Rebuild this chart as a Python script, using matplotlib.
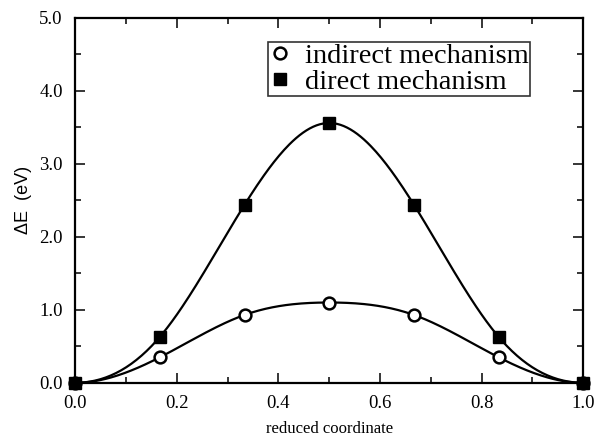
import matplotlib
matplotlib.use('Agg')
import matplotlib.pyplot as plt
import numpy as np
from matplotlib.ticker import MultipleLocator, FormatStrFormatter

# ------------------------
# Data
# ------------------------
coord = [0.0, 1/6, 1/3, 0.5, 2/3, 5/6, 1.0]
indirect = [0.0, 0.35, 0.93, 1.10, 0.93, 0.35, 0.0]
direct = [0.0, 0.63, 2.44, 3.56, 2.44, 0.63, 0.0]


def clamped_spline(x, y, n=300):
    # cubic spline with zero slope at both ends, only used to draw the smooth line
    x = np.asarray(x, float)
    y = np.asarray(y, float)
    m = len(x)
    h = np.diff(x)
    A = np.zeros((m, m))
    b = np.zeros(m)
    A[0, 0], A[0, 1] = 2 * h[0], h[0]
    b[0] = 6 * ((y[1] - y[0]) / h[0])
    A[-1, -2], A[-1, -1] = h[-1], 2 * h[-1]
    b[-1] = 6 * (-(y[-1] - y[-2]) / h[-1])
    for i in range(1, m - 1):
        A[i, i - 1] = h[i - 1]
        A[i, i] = 2 * (h[i - 1] + h[i])
        A[i, i + 1] = h[i]
        b[i] = 6 * ((y[i + 1] - y[i]) / h[i] - (y[i] - y[i - 1]) / h[i - 1])
    M = np.linalg.solve(A, b)
    xs = np.linspace(x[0], x[-1], n)
    k = np.clip(np.searchsorted(x, xs) - 1, 0, m - 2)
    dx1 = x[k + 1] - xs
    dx0 = xs - x[k]
    hk = h[k]
    ys = (M[k] * dx1**3 / (6 * hk) + M[k + 1] * dx0**3 / (6 * hk)
          + (y[k] / hk - M[k] * hk / 6) * dx1 + (y[k + 1] / hk - M[k + 1] * hk / 6) * dx0)
    return xs, ys


# ------------------------
# Style
# ------------------------
plt.rcParams['font.family'] = 'Liberation Serif'
plt.rcParams['xtick.labelsize'] = 13.5
plt.rcParams['ytick.labelsize'] = 13.5

fig = plt.figure(figsize=(5.97, 4.36), dpi=100)
ax = fig.add_axes([0.126, 0.122, 0.851, 0.837])

for xs, ys in [clamped_spline(coord, indirect), clamped_spline(coord, direct)]:
    ax.plot(xs, ys, color='black', linewidth=1.6, zorder=2)

ax.plot(coord, indirect, linestyle='none', marker='o', markersize=8.5,
        markerfacecolor='white', markeredgecolor='black', markeredgewidth=1.8,
        label='indirect mechanism', zorder=3, clip_on=False)
ax.plot(coord, direct, linestyle='none', marker='s', markersize=8.5,
        color='black', label='direct mechanism', zorder=4, clip_on=False)

ax.set_xlim(0, 1.0)
ax.set_ylim(0, 5.0)
ax.xaxis.set_major_locator(MultipleLocator(0.2))
ax.xaxis.set_minor_locator(MultipleLocator(0.1))
ax.yaxis.set_major_locator(MultipleLocator(1.0))
ax.yaxis.set_minor_locator(MultipleLocator(0.5))
ax.xaxis.set_major_formatter(FormatStrFormatter('%.1f'))
ax.yaxis.set_major_formatter(FormatStrFormatter('%.1f'))
ax.tick_params(which='both', direction='in', top=True, right=True, width=1.1)
ax.tick_params(which='major', length=7)
ax.tick_params(which='minor', length=4)
ax.tick_params(axis='x', which='major', pad=9)
ax.tick_params(axis='y', which='major', pad=9)

for spine in ax.spines.values():
    spine.set_linewidth(1.6)

ax.set_xlabel('reduced coordinate', fontsize=12, labelpad=6)
ax.set_ylabel('ΔE  (eV)', fontsize=13, family='Liberation Sans', labelpad=5)

leg = ax.legend(loc='upper left', bbox_to_anchor=(0.38, 0.935), frameon=True,
                fancybox=False, edgecolor='black', fontsize=20.5,
                handlelength=0.7, handletextpad=0.55, borderpad=0.05,
                labelspacing=0.0, borderaxespad=0)
leg.get_frame().set_linewidth(1.2)

fig.savefig('out.png', dpi=100)
